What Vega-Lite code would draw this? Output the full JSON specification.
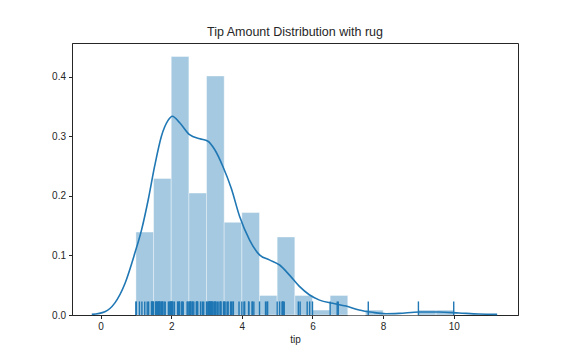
{
  "$schema": "https://vega.github.io/schema/vega-lite/v6.json",
  "width": 446,
  "height": 272,
  "autosize": {"type": "none"},
  "padding": {"left": 72, "top": 43, "right": 58, "bottom": 45},
  "background": "white",
  "title": {"text": "Tip Amount Distribution with rug", "fontSize": 12.5, "font": "Liberation Sans", "fontWeight": "normal", "color": "#262626", "offset": 5},
  "config": {
    "view": {"stroke": "#262626", "strokeWidth": 1},
    "axis": {"grid": false, "domainColor": "#262626", "tickColor": "#262626", "tickSize": 3.5, "labelFont": "Liberation Sans", "labelFontSize": 10, "labelColor": "#262626", "titleFont": "Liberation Sans", "titleFontSize": 10, "titleFontWeight": "normal", "titleColor": "#262626", "labelPadding": 3}
  },
  "datasets": {
    "bars": [
      {"start": 1.0, "end": 1.5, "density": 0.1393},
      {"start": 1.5, "end": 2.0, "density": 0.2295},
      {"start": 2.0, "end": 2.5, "density": 0.4344},
      {"start": 2.5, "end": 3.0, "density": 0.2049},
      {"start": 3.0, "end": 3.5, "density": 0.4016},
      {"start": 3.5, "end": 4.0, "density": 0.1557},
      {"start": 4.0, "end": 4.5, "density": 0.1721},
      {"start": 4.5, "end": 5.0, "density": 0.0328},
      {"start": 5.0, "end": 5.5, "density": 0.1311},
      {"start": 5.5, "end": 6.0, "density": 0.0328},
      {"start": 6.0, "end": 6.5, "density": 0.0082},
      {"start": 6.5, "end": 7.0, "density": 0.0328},
      {"start": 7.0, "end": 7.5, "density": 0.0},
      {"start": 7.5, "end": 8.0, "density": 0.0082},
      {"start": 8.0, "end": 8.5, "density": 0.0},
      {"start": 8.5, "end": 9.0, "density": 0.0},
      {"start": 9.0, "end": 9.5, "density": 0.0082},
      {"start": 9.5, "end": 10.0, "density": 0.0082}
    ],
    "kde": [
      {"tip": -0.25, "density": 0.001},
      {"tip": 0.12, "density": 0.0056},
      {"tip": 0.4, "density": 0.02},
      {"tip": 0.69, "density": 0.053},
      {"tip": 0.97, "density": 0.104},
      {"tip": 1.16, "density": 0.143},
      {"tip": 1.35, "density": 0.194},
      {"tip": 1.53, "density": 0.25},
      {"tip": 1.72, "density": 0.3},
      {"tip": 1.91, "density": 0.327},
      {"tip": 2.03, "density": 0.334},
      {"tip": 2.24, "density": 0.323},
      {"tip": 2.52, "density": 0.303},
      {"tip": 2.81, "density": 0.296},
      {"tip": 3.04, "density": 0.292},
      {"tip": 3.23, "density": 0.278},
      {"tip": 3.46, "density": 0.25},
      {"tip": 3.7, "density": 0.213},
      {"tip": 3.94, "density": 0.165},
      {"tip": 4.22, "density": 0.126},
      {"tip": 4.5, "density": 0.101},
      {"tip": 4.78, "density": 0.0926},
      {"tip": 5.07, "density": 0.084},
      {"tip": 5.35, "density": 0.067},
      {"tip": 5.63, "density": 0.048},
      {"tip": 5.91, "density": 0.034},
      {"tip": 6.2, "density": 0.025},
      {"tip": 6.57, "density": 0.0197},
      {"tip": 6.95, "density": 0.015},
      {"tip": 7.32, "density": 0.0084},
      {"tip": 7.7, "density": 0.0045},
      {"tip": 8.08, "density": 0.0022},
      {"tip": 8.45, "density": 0.0028},
      {"tip": 9.02, "density": 0.005},
      {"tip": 9.58, "density": 0.005},
      {"tip": 10.15, "density": 0.0034},
      {"tip": 10.71, "density": 0.0017},
      {"tip": 11.23, "density": 0.001}
    ],
    "rug": [
      {"tip": 1.0}, {"tip": 1.01}, {"tip": 1.1}, {"tip": 1.17}, {"tip": 1.25}, {"tip": 1.32}, {"tip": 1.36}, {"tip": 1.44}, {"tip": 1.45}, {"tip": 1.47}, {"tip": 1.48}, {"tip": 1.5}, {"tip": 1.56}, {"tip": 1.57}, {"tip": 1.58}, {"tip": 1.61}, {"tip": 1.63}, {"tip": 1.64}, {"tip": 1.66}, {"tip": 1.67}, {"tip": 1.68}, {"tip": 1.71}, {"tip": 1.73}, {"tip": 1.75}, {"tip": 1.76}, {"tip": 1.8}, {"tip": 1.83}, {"tip": 1.92}, {"tip": 1.96}, {"tip": 1.97}, {"tip": 1.98},
      {"tip": 2.0}, {"tip": 2.01}, {"tip": 2.02}, {"tip": 2.03}, {"tip": 2.05}, {"tip": 2.09}, {"tip": 2.18}, {"tip": 2.2}, {"tip": 2.23}, {"tip": 2.24}, {"tip": 2.3}, {"tip": 2.31}, {"tip": 2.34}, {"tip": 2.45}, {"tip": 2.47}, {"tip": 2.5}, {"tip": 2.52}, {"tip": 2.54}, {"tip": 2.55}, {"tip": 2.56}, {"tip": 2.6}, {"tip": 2.61}, {"tip": 2.64}, {"tip": 2.71}, {"tip": 2.72}, {"tip": 2.74}, {"tip": 2.75}, {"tip": 2.83}, {"tip": 2.88}, {"tip": 2.92},
      {"tip": 3.0}, {"tip": 3.02}, {"tip": 3.06}, {"tip": 3.07}, {"tip": 3.08}, {"tip": 3.09}, {"tip": 3.11}, {"tip": 3.12}, {"tip": 3.14}, {"tip": 3.15}, {"tip": 3.16}, {"tip": 3.18}, {"tip": 3.21}, {"tip": 3.23}, {"tip": 3.25}, {"tip": 3.27}, {"tip": 3.31}, {"tip": 3.35}, {"tip": 3.39}, {"tip": 3.4}, {"tip": 3.41}, {"tip": 3.48}, {"tip": 3.5}, {"tip": 3.51}, {"tip": 3.55}, {"tip": 3.6}, {"tip": 3.61}, {"tip": 3.68}, {"tip": 3.71}, {"tip": 3.75}, {"tip": 3.76}, {"tip": 3.92},
      {"tip": 4.0}, {"tip": 4.06}, {"tip": 4.08}, {"tip": 4.19}, {"tip": 4.2}, {"tip": 4.29}, {"tip": 4.3}, {"tip": 4.34}, {"tip": 4.5}, {"tip": 4.67}, {"tip": 4.71}, {"tip": 4.73},
      {"tip": 5.0}, {"tip": 5.07}, {"tip": 5.14}, {"tip": 5.15}, {"tip": 5.16}, {"tip": 5.17}, {"tip": 5.2}, {"tip": 5.6}, {"tip": 5.65}, {"tip": 5.85}, {"tip": 5.92},
      {"tip": 6.0}, {"tip": 6.5}, {"tip": 6.7}, {"tip": 6.73}, {"tip": 7.58}, {"tip": 9.0}, {"tip": 10.0}
    ]
  },
  "layer": [
    {
      "data": {"name": "bars"},
      "mark": {"type": "rect", "fill": "#1f77b4", "fillOpacity": 0.4, "stroke": "white", "strokeOpacity": 0.4, "strokeWidth": 1},
      "encoding": {
        "x": {"field": "start", "type": "quantitative", "scale": {"domain": [-0.81, 11.82], "nice": false, "zero": false}, "axis": {"values": [0, 2, 4, 6, 8, 10], "title": "tip", "titlePadding": 3}},
        "x2": {"field": "end"},
        "y": {"field": "density", "type": "quantitative", "scale": {"domain": [0, 0.457], "nice": false}, "axis": {"values": [0, 0.1, 0.2, 0.3, 0.4], "format": ".1f", "title": null}},
        "y2": {"datum": 0}
      }
    },
    {
      "data": {"name": "kde"},
      "mark": {"type": "line", "color": "#1f77b4", "strokeWidth": 1.6, "interpolate": "monotone"},
      "encoding": {
        "x": {"field": "tip", "type": "quantitative"},
        "y": {"field": "density", "type": "quantitative"}
      }
    },
    {
      "data": {"name": "rug"},
      "mark": {"type": "rule", "color": "#1f77b4", "strokeWidth": 1.4},
      "encoding": {
        "x": {"field": "tip", "type": "quantitative"},
        "y": {"datum": 0},
        "y2": {"datum": 0.0228}
      }
    }
  ]
}
